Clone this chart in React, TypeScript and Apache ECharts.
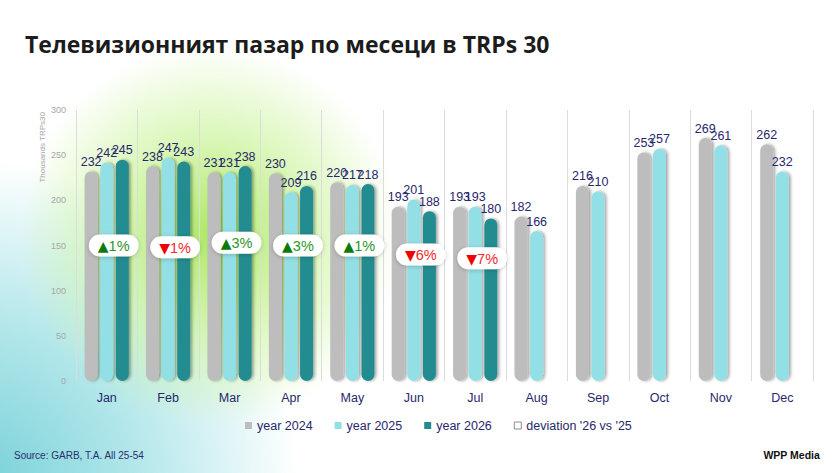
import { useEffect, useRef } from 'react';
import * as echarts from 'echarts';

const months = ['Jan', 'Feb', 'Mar', 'Apr', 'May', 'Jun', 'Jul', 'Aug', 'Sep', 'Oct', 'Nov', 'Dec'];
const year2024 = [232, 238, 231, 230, 220, 193, 193, 182, 216, 253, 269, 262];
const year2025 = [242, 247, 231, 209, 217, 201, 193, 166, 210, 257, 261, 232];
const year2026 = [245, 243, 238, 216, 218, 188, 180, null, null, null, null, null];
// deviation '26 vs '25, in %
const deviation = [1, -1, 3, 3, 1, -6, -7];
// where each badge sits on the value axis
const badgeLevel = [150, 148, 153, 150, 150, 140, 136];
const yTicks = [0, 50, 100, 150, 200, 250, 300];

const NAVY = '#27276b';
const FONT = '"Liberation Sans", "Noto Sans", sans-serif';

const barStyle = (color: string) => ({
  color,
  borderRadius: 7,
  shadowBlur: 3,
  shadowOffsetX: 2,
  shadowOffsetY: 0,
  shadowColor: 'rgba(0,0,0,0.35)',
});

const barLabel = {
  show: true,
  position: 'top' as const,
  distance: 3,
  color: NAVY,
  fontSize: 12.5,
  fontFamily: FONT,
};

export default function App() {
  const chartRef = useRef<HTMLDivElement>(null);

  useEffect(() => {
    document.body.style.margin = '0';
    if (!chartRef.current) return;
    const chart = echarts.init(chartRef.current, null, { renderer: 'svg' });

    chart.setOption({
      animation: false,
      title: {
        text: 'Телевизионният пазар по месеци в TRPs 30',
        left: 20,
        top: 27,
        textStyle: { fontFamily: '"Open Sans", sans-serif', fontWeight: 'bold', fontSize: 23, color: '#1c1c1c' },
      },
      grid: { left: 76, right: 27, top: 110, bottom: 92 },
      legend: {
        top: 414,
        left: 240,
        itemWidth: 7,
        itemHeight: 7,
        itemGap: 22,
        textStyle: { color: NAVY, fontSize: 12.5, fontFamily: FONT },
        data: [
          { name: 'year 2024', icon: 'rect' },
          { name: 'year 2025', icon: 'rect' },
          { name: 'year 2026', icon: 'rect' },
          {
            name: "deviation '26 vs '25",
            icon: 'rect',
            itemStyle: { color: '#ffffff', borderColor: '#8c8c8c', borderWidth: 1 },
          },
        ],
      },
      xAxis: {
        type: 'category',
        data: months,
        axisLine: { show: false },
        axisTick: { show: false },
        splitLine: { show: true, lineStyle: { color: '#dcdcdc', width: 1 } },
        axisLabel: { color: NAVY, fontSize: 12.5, fontFamily: FONT, margin: 10 },
      },
      yAxis: {
        type: 'value',
        min: yTicks[0],
        max: yTicks[yTicks.length - 1],
        interval: yTicks[1] - yTicks[0],
        axisLine: { show: false },
        axisTick: { show: false },
        splitLine: { show: false },
        axisLabel: { color: '#a6a6a6', fontSize: 9, fontFamily: FONT, margin: 10 },
      },
      graphic: [
        {
          type: 'text',
          x: 38,
          y: 112,
          rotation: Math.PI / 2,
          style: {
            text: 'Thousands TRPs30',
            fill: '#a6a6a6',
            fontSize: 8,
            fontFamily: FONT,
            textAlign: 'right',
            textVerticalAlign: 'top',
          },
        },
        {
          type: 'text',
          left: 14,
          top: 450,
          style: { text: 'Source: GARB, T.A. All 25-54', fill: '#2b2f6b', fontSize: 10, fontFamily: FONT },
        },
        {
          type: 'text',
          right: 20,
          top: 449,
          style: { text: 'WPP Media', fill: '#111', fontSize: 10.5, fontWeight: 'bold', fontFamily: FONT },
        },
      ],
      series: [
        {
          name: 'year 2024',
          type: 'bar',
          data: year2024,
          barWidth: 13,
          barGap: '20%',
          itemStyle: barStyle('#bdbdbd'),
          label: barLabel,
        },
        {
          name: 'year 2025',
          type: 'bar',
          data: year2025,
          barWidth: 13,
          barGap: '20%',
          itemStyle: barStyle('#92dfe5'),
          label: barLabel,
        },
        {
          name: 'year 2026',
          type: 'bar',
          data: year2026,
          barWidth: 13,
          barGap: '20%',
          itemStyle: barStyle('#238c90'),
          label: barLabel,
        },
        {
          name: "deviation '26 vs '25",
          type: 'scatter',
          z: 5,
          symbol: 'circle',
          symbolSize: 0,
          itemStyle: { color: '#ffffff', opacity: 1 },
          emphasis: { disabled: true },
          data: deviation.map((d, i) => [i, badgeLevel[i], d]),
          label: {
            show: true,
            position: 'inside',
            offset: [7, 0],
            opacity: 1,
            color: '#333',
            textBorderWidth: 0,
            backgroundColor: '#ffffff',
            borderRadius: 11,
            padding: [4, 9, 3, 9],
            shadowBlur: 4,
            shadowOffsetY: 1,
            shadowColor: 'rgba(0,0,0,0.2)',
            formatter: (p: any) => {
              const d = p.value[2];
              return d >= 0 ? `{up|▲}{upT|${d}%}` : `{dn|▼}{dnT|${Math.abs(d)}%}`;
            },
            rich: {
              up: { color: '#0b7a0b', fontSize: 14, fontFamily: '"DejaVu Sans", sans-serif', textBorderWidth: 0 },
              upT: { color: '#2a962a', fontSize: 14.5, fontFamily: FONT, textBorderWidth: 0 },
              dn: { color: '#f00000', fontSize: 14, fontFamily: '"DejaVu Sans", sans-serif', textBorderWidth: 0 },
              dnT: { color: '#f02828', fontSize: 14.5, fontFamily: FONT, textBorderWidth: 0 },
            },
          },
        },
      ],
    });

    return () => chart.dispose();
  }, []);

  return (
    <div
      ref={chartRef}
      style={{
        width: 840,
        height: 473,
        background:
          'radial-gradient(circle at 210px 235px, rgba(170,232,95,0.95) 0px, rgba(200,243,150,0.65) 100px, rgba(255,255,255,0) 190px), ' +
          'radial-gradient(circle at -30px 490px, rgba(115,208,215,1) 0px, rgba(145,220,225,0.7) 165px, rgba(255,255,255,0) 330px), #ffffff',
      }}
    />
  );
}
